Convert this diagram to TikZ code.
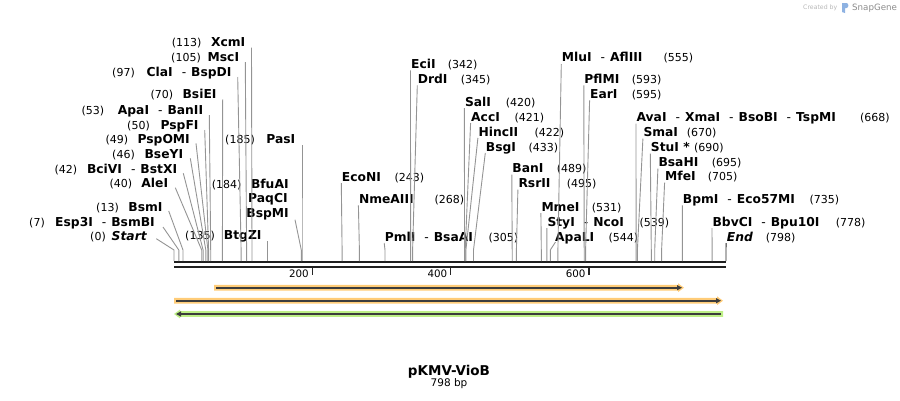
\documentclass[tikz,border=0pt]{standalone}
\usepackage{fontspec}
\setmainfont{DejaVu Sans}
\usetikzlibrary{arrows.meta}
\newcommand{\dsh}{\hspace{9pt}\textmd{-}\hspace{5pt}}
\definecolor{featorange}{RGB}{255,204,120}
\definecolor{featgreen}{RGB}{190,240,135}
\definecolor{featdark}{RGB}{60,60,60}

\begin{document}
\begin{tikzpicture}[x=1pt,y=-1pt,
    enz/.style={inner sep=0pt,font=\bfseries\fontsize{12.3}{14}\selectfont},
    bpnum/.style={inner sep=0pt,font=\fontsize{11}{13}\selectfont},
    leader/.style={draw=black!42,line width=0.9pt},
    featline/.style={draw=featdark,line width=1.6pt,-{Triangle[length=5pt,width=5pt]}}]
  \useasboundingbox (0,0) rectangle (900,400);

  % backbone
  \draw[line width=2.3pt,black!88] (174,262.2) -- (726,262.2);%
  \draw[line width=2.3pt,black!88] (174,267.2) -- (726,267.2);%

  % sites
  \coordinate (s0) at (174,261);%
  \coordinate (s7) at (178.8,261);%
  \coordinate (s13) at (183,261);%
  \coordinate (s40) at (201.7,261);%
  \coordinate (s42) at (203.1,261);%
  \coordinate (s46) at (205.8,261);%
  \coordinate (s49) at (207.9,261);%
  \coordinate (s50) at (208.6,261);%
  \coordinate (s53) at (210.7,261);%
  \coordinate (s70) at (222.4,261);%
  \coordinate (s97) at (241.1,261);%
  \coordinate (s105) at (246.6,261);%
  \coordinate (s113) at (252,261);%
  \coordinate (s135) at (267.4,261);%
  \coordinate (s184) at (301.3,261);%
  \coordinate (s185) at (302,261);%
  \coordinate (s243) at (342.1,261);%
  \coordinate (s268) at (359.4,261);%
  \coordinate (s305) at (385,261);%
  \coordinate (s342) at (410.6,261);%
  \coordinate (s345) at (412.6,261);%
  \coordinate (s420) at (464.5,261);%
  \coordinate (s421) at (465.2,261);%
  \coordinate (s422) at (465.9,261);%
  \coordinate (s433) at (473.5,261);%
  \coordinate (s489) at (512.2,261);%
  \coordinate (s495) at (516.4,261);%
  \coordinate (s531) at (541.3,261);%
  \coordinate (s539) at (546.8,261);%
  \coordinate (s544) at (550.3,261);%
  \coordinate (s555) at (557.9,261);%
  \coordinate (s593) at (584.2,261);%
  \coordinate (s595) at (585.6,261);%
  \coordinate (s668) at (636.1,261);%
  \coordinate (s670) at (637.4,261);%
  \coordinate (s690) at (651.3,261);%
  \coordinate (s695) at (654.7,261);%
  \coordinate (s705) at (661.6,261);%
  \coordinate (s735) at (682.4,261);%
  \coordinate (s778) at (712.1,261);%
  \coordinate (s798) at (726,261);%

  % labels left of their sites
  \node[enz,anchor=base east] (l113) at (245.5,46.7) {XcmI};%
  \node[bpnum,anchor=base east] (n113) at (201.7,46.7) {(113)};%
  \node[enz,anchor=base east] (l105) at (239.3,61) {MscI};%
  \node[bpnum,anchor=base east] (n105) at (201,61) {(105)};%
  \node[enz,anchor=base east] (l97) at (231.7,76) {ClaI\dsh BspDI};%
  \node[bpnum,anchor=base east] (n97) at (135,76) {(97)};%
  \node[enz,anchor=base east] (l70) at (216.7,98.3) {BsiEI};%
  \node[bpnum,anchor=base east] (n70) at (173.3,98.3) {(70)};%
  \node[enz,anchor=base east] (l53) at (203.3,114) {ApaI\dsh BanII};%
  \node[bpnum,anchor=base east] (n53) at (104.3,114) {(53)};%
  \node[enz,anchor=base east] (l50) at (198.7,129) {PspFI};%
  \node[bpnum,anchor=base east] (n50) at (150,129) {(50)};%
  \node[enz,anchor=base east] (l49) at (190,143.3) {PspOMI};%
  \node[bpnum,anchor=base east] (n49) at (128.3,143.3) {(49)};%
  \node[enz,anchor=base east] (l46) at (183.3,158.3) {BseYI};%
  \node[bpnum,anchor=base east] (n46) at (135,158.3) {(46)};%
  \node[enz,anchor=base east] (l42) at (177.3,173.3) {BciVI\dsh BstXI};%
  \node[bpnum,anchor=base east] (n42) at (77.3,173.3) {(42)};%
  \node[enz,anchor=base east] (l40) at (168.3,187.7) {AleI};%
  \node[bpnum,anchor=base east] (n40) at (132.3,187.7) {(40)};%
  \node[enz,anchor=base east] (l13) at (162.7,211) {BsmI};%
  \node[bpnum,anchor=base east] (n13) at (119,211) {(13)};%
  \node[enz,anchor=base east] (l7) at (155,226) {Esp3I\dsh BsmBI};%
  \node[bpnum,anchor=base east] (n7) at (45,226) {(7)};%
  \node[enz,anchor=base east] (l0) at (147.3,240.7) {\textit{Start}};%
  \node[bpnum,anchor=base east] (n0) at (106,240.7) {(0)};%
  \node[enz,anchor=base east] (l135) at (261.7,239.3) {BtgZI};%
  \node[bpnum,anchor=base east] (n135) at (215,239.3) {(135)};%
  \node[enz,anchor=base east] (l185) at (295.5,143.3) {PasI};%
  \node[bpnum,anchor=base east] (n185) at (255,143.3) {(185)};%
  \node[enz,anchor=base east] (l184a) at (288.8,188) {BfuAI};%
  \node[bpnum,anchor=base east] (n184) at (241.7,188) {(184)};%
  \node[enz,anchor=base east] (l184b) at (287.8,202.7) {PaqCI};%
  \node[enz,anchor=base east] (l184) at (289,217.7) {BspMI};%

  % labels right of their sites
  \node[enz,anchor=base west] (l243) at (341.7,181) {EcoNI};%
  \node[bpnum,anchor=base west] (n243) at (394.3,181) {(243)};%
  \node[enz,anchor=base west] (l268) at (358.8,203.3) {NmeAIII};%
  \node[bpnum,anchor=base west] (n268) at (434.3,203.3) {(268)};%
  \node[enz,anchor=base west] (l305) at (384.6,241) {PmlI\dsh BsaAI};%
  \node[bpnum,anchor=base west] (n305) at (488.3,241) {(305)};%
  \node[enz,anchor=base west] (l342) at (410.9,68.3) {EciI};%
  \node[bpnum,anchor=base west] (n342) at (447.7,68.3) {(342)};%
  \node[enz,anchor=base west] (l345) at (417.7,83.3) {DrdI};%
  \node[bpnum,anchor=base west] (n345) at (460.7,83.3) {(345)};%
  \node[enz,anchor=base west] (l420) at (464.8,106) {SalI};%
  \node[bpnum,anchor=base west] (n420) at (505.7,106) {(420)};%
  \node[enz,anchor=base west] (l421) at (471,121) {AccI};%
  \node[bpnum,anchor=base west] (n421) at (514.3,121) {(421)};%
  \node[enz,anchor=base west] (l422) at (478.3,136) {HincII};%
  \node[bpnum,anchor=base west] (n422) at (534.3,136) {(422)};%
  \node[enz,anchor=base west] (l433) at (485.7,151) {BsgI};%
  \node[bpnum,anchor=base west] (n433) at (528.3,151) {(433)};%
  \node[enz,anchor=base west] (l489) at (512.2,172.7) {BanI};%
  \node[bpnum,anchor=base west] (n489) at (556.7,172.7) {(489)};%
  \node[enz,anchor=base west] (l495) at (518.3,187.7) {RsrII};%
  \node[bpnum,anchor=base west] (n495) at (566.7,187.7) {(495)};%
  \node[enz,anchor=base west] (l531) at (541.3,211) {MmeI};%
  \node[bpnum,anchor=base west] (n531) at (591.7,211) {(531)};%
  \node[enz,anchor=base west] (l539) at (547.3,226) {StyI\dsh NcoI};%
  \node[bpnum,anchor=base west] (n539) at (639.3,226) {(539)};%
  \node[enz,anchor=base west] (l544) at (555,241) {ApaLI};%
  \node[bpnum,anchor=base west] (n544) at (608.3,241) {(544)};%
  \node[enz,anchor=base west] (l555) at (561.7,61) {MluI\dsh AflIII};%
  \node[bpnum,anchor=base west] (n555) at (663.3,61) {(555)};%
  \node[enz,anchor=base west] (l593) at (584.2,83.3) {PflMI};%
  \node[bpnum,anchor=base west] (n593) at (631.7,83.3) {(593)};%
  \node[enz,anchor=base west] (l595) at (590,98.3) {EarI};%
  \node[bpnum,anchor=base west] (n595) at (631.7,98.3) {(595)};%
  \node[enz,anchor=base west] (l668) at (636.4,121.7) {AvaI\dsh XmaI\dsh BsoBI\dsh TspMI};%
  \node[bpnum,anchor=base west] (n668) at (860,121.7) {(668)};%
  \node[enz,anchor=base west] (l670) at (643.3,136.7) {SmaI};%
  \node[bpnum,anchor=base west] (n670) at (686.7,136.7) {(670)};%
  \node[enz,anchor=base west] (l690) at (650.7,151.7) {StuI *};%
  \node[bpnum,anchor=base west] (n690) at (694,151.7) {(690)};%
  \node[enz,anchor=base west] (l695) at (658.3,166.7) {BsaHI};%
  \node[bpnum,anchor=base west] (n695) at (711.7,166.7) {(695)};%
  \node[enz,anchor=base west] (l705) at (665,180.7) {MfeI};%
  \node[bpnum,anchor=base west] (n705) at (707.7,180.7) {(705)};%
  \node[enz,anchor=base west] (l735) at (682.7,203.3) {BpmI\dsh Eco57MI};%
  \node[bpnum,anchor=base west] (n735) at (809.3,203.3) {(735)};%
  \node[enz,anchor=base west] (l778) at (712.4,226) {BbvCI\dsh Bpu10I};%
  \node[bpnum,anchor=base west] (n778) at (835.7,226) {(778)};%
  \node[enz,anchor=base west] (l798) at (726.7,241) {\textit{End}};%
  \node[bpnum,anchor=base west] (n798) at (765.7,241) {(798)};%

  % leaders, left labels
  \draw[leader] (s113) -- ++(0,-11) -- ([xshift=6pt,yshift=-1pt]l113.base east);%
  \draw[leader] (s105) -- ++(0,-11) -- ([xshift=6pt,yshift=-1pt]l105.base east);%
  \draw[leader] (s97) -- ++(0,-11) -- ([xshift=6pt,yshift=-1pt]l97.base east);%
  \draw[leader] (s70) -- ++(0,-11) -- ([xshift=6pt,yshift=-1pt]l70.base east);%
  \draw[leader] (s53) -- ++(0,-11) -- ([xshift=6pt,yshift=-1pt]l53.base east);%
  \draw[leader] (s50) -- ++(0,-11) -- ([xshift=6pt,yshift=-1pt]l50.base east);%
  \draw[leader] (s49) -- ++(0,-11) -- ([xshift=6pt]l49.base east);%
  \draw[leader] (s46) -- ++(0,-11) -- ([xshift=7pt]l46.base east);%
  \draw[leader] (s42) -- ++(0,-11) -- ([xshift=6pt]l42.base east);%
  \draw[leader] (s40) -- ++(0,-11) -- ([xshift=7pt]l40.base east);%
  \draw[leader] (s13) -- ++(0,-11) -- ([xshift=6pt]l13.base east);%
  \draw[leader] (s7) -- ++(0,-11) -- ([xshift=8pt,yshift=-1pt]l7.base east);%
  \draw[leader] (s0) -- ++(0,-11) -- ([xshift=9pt,yshift=2pt]l0.base east);%
  \draw[leader] (s135) -- ++(0,-11) -- ([xshift=5.7pt,yshift=-2pt]l135.base east);%
  \draw[leader] (s185) -- ++(0,-11) -- ([xshift=6.5pt,yshift=-2pt]l185.base east);%
  \draw[leader] (s184) -- ++(0,-11) -- ([xshift=6pt,yshift=-2pt]l184.base east);%

  % leaders, right labels
  \draw[leader] (s243) -- ++(0,-11) -- ([xshift=-0.4pt,yshift=-2pt]l243.base west);%
  \draw[leader] (s268) -- ++(0,-11) -- ([xshift=-0.4pt,yshift=-2pt]l268.base west);%
  \draw[leader] (s305) -- ++(0,-11) -- ([xshift=-0.4pt,yshift=-2pt]l305.base west);%
  \draw[leader] (s342) -- ++(0,-11) -- ([xshift=-0.4pt,yshift=-2pt]l342.base west);%
  \draw[leader] (s345) -- ++(0,-11) -- ([xshift=-0.4pt,yshift=-2pt]l345.base west);%
  \draw[leader] (s420) -- ++(0,-11) -- ([xshift=-0.4pt,yshift=-2pt]l420.base west);%
  \draw[leader] (s421) -- ++(0,-11) -- ([xshift=-0.4pt,yshift=-2pt]l421.base west);%
  \draw[leader] (s422) -- ++(0,-11) -- ([xshift=-0.4pt,yshift=-2pt]l422.base west);%
  \draw[leader] (s433) -- ++(0,-11) -- ([xshift=-0.4pt,yshift=-2pt]l433.base west);%
  \draw[leader] (s489) -- ++(0,-11) -- ([xshift=-0.4pt,yshift=-2pt]l489.base west);%
  \draw[leader] (s495) -- ++(0,-11) -- ([xshift=-0.4pt,yshift=-2pt]l495.base west);%
  \draw[leader] (s531) -- ++(0,-11) -- ([xshift=-0.4pt,yshift=-2pt]l531.base west);%
  \draw[leader] (s539) -- ++(0,-11) -- ([xshift=-0.4pt,yshift=-2pt]l539.base west);%
  \draw[leader] (s544) -- ++(0,-11) -- ([xshift=0.5pt,yshift=-1pt]l544.base west);%
  \draw[leader] (s555) -- ++(0,-11) -- ([xshift=-0.4pt,yshift=-3pt]l555.base west);%
  \draw[leader] (s593) -- ++(0,-11) -- ([xshift=-0.4pt,yshift=-2pt]l593.base west);%
  \draw[leader] (s595) -- ++(0,-11) -- ([xshift=-0.4pt,yshift=-2pt]l595.base west);%
  \draw[leader] (s668) -- ++(0,-11) -- ([xshift=-0.4pt,yshift=-2pt]l668.base west);%
  \draw[leader] (s670) -- ++(0,-11) -- ([xshift=-0.4pt,yshift=-2pt]l670.base west);%
  \draw[leader] (s690) -- ++(0,-11) -- ([xshift=-0.4pt,yshift=-2pt]l690.base west);%
  \draw[leader] (s695) -- ++(0,-11) -- ([xshift=-0.4pt,yshift=-2pt]l695.base west);%
  \draw[leader] (s705) -- ++(0,-11) -- ([xshift=-0.4pt,yshift=-2pt]l705.base west);%
  \draw[leader] (s735) -- ++(0,-11) -- ([xshift=-0.4pt,yshift=-2pt]l735.base west);%
  \draw[leader] (s778) -- ++(0,-11) -- ([xshift=-0.4pt,yshift=-2pt]l778.base west);%
  \draw[leader,draw=black!85] (s798) -- ++(0,-11) -- ([xshift=-0.6pt,yshift=-2pt]l798.base west);%

  % ruler
  \coordinate (k200) at (312.3,268.3);%
  \coordinate (k400) at (450.7,268.3);%
  \coordinate (k600) at (589,268.3);%
  \draw[line width=1.5pt,black!85] (k200) -- ++(0,7);%
  \draw[line width=1.5pt,black!85] (k400) -- ++(0,7);%
  \draw[line width=1.5pt,black!85] (k600) -- ++(0,7);%
  \node[bpnum,font=\fontsize{10.3}{12}\selectfont,anchor=base east] (r200) at (309,277.3) {200};%
  \node[bpnum,font=\fontsize{10.3}{12}\selectfont,anchor=base east] (r400) at (447.4,277.3) {400};%
  \node[bpnum,font=\fontsize{10.3}{12}\selectfont,anchor=base east] (r600) at (585.7,277.3) {600};%

  % features
  \fill[featorange] (214,284.8) -- (678,284.8) -- (678,283.3) -- (684,287.7) -- (678,292.1) -- (678,290.6) -- (214,290.6) -- cycle;%
  \draw[featline] (216,287.7) -- (682,287.7);%
  \fill[featorange] (174,297.8) -- (717,297.8) -- (717,296.3) -- (723,300.7) -- (717,305.1) -- (717,303.6) -- (174,303.6) -- cycle;%
  \draw[featline] (176,300.7) -- (721,300.7);%
  \fill[featgreen] (723,311.1) -- (180,311.1) -- (180,309.6) -- (174,314) -- (180,318.4) -- (180,316.9) -- (723,316.9) -- cycle;%
  \draw[featline] (721,314) -- (176,314);%

  % title
  \node[inner sep=0pt,font=\bfseries\fontsize{13.5}{16}\selectfont,anchor=base] (title) at (449,375) {pKMV-VioB};%
  \node[inner sep=0pt,font=\fontsize{10.5}{12}\selectfont,anchor=base] (length) at (449,386.7) {798 bp};%

  % credit
  \node[inner sep=0pt,font=\fontsize{6.2}{7}\selectfont,text=black!28,anchor=base west] (credit) at (803,9.5) {Created by};%
  \fill[cyan!55!blue!45] (842,3) -- (846.5,3) .. controls (849,3) and (849,8) .. (846.5,8) -- (845,8) -- (845,13) -- (842,12) -- cycle;%
  \node[inner sep=0pt,font=\fontsize{8.7}{10}\selectfont,text=black!45,anchor=base west] (brand) at (852,10.5) {SnapGene};%
\end{tikzpicture}
\end{document}
